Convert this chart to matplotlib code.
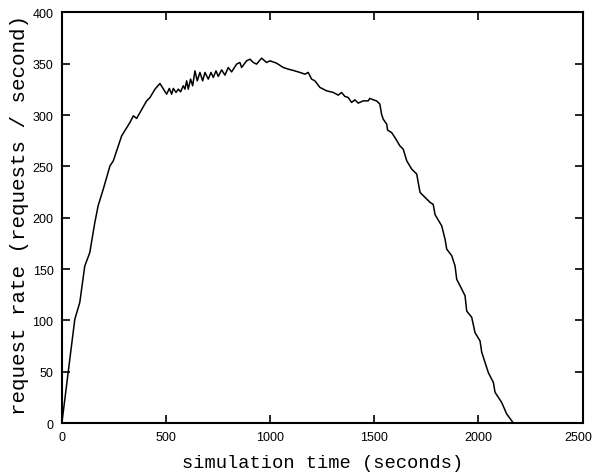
import matplotlib
matplotlib.use("Agg")
import matplotlib.pyplot as plt
import matplotlib.transforms as mtransforms

# simulation time (seconds) and request rate (requests / second)
time_s = [0, 30, 62, 86, 110, 134, 158, 174, 199, 231, 247, 287, 327, 343, 359,
          407, 423, 447, 471, 503, 516, 527, 535, 548, 559, 570, 583, 591, 599,
          607, 618, 628, 639, 650, 663, 676, 687, 703, 716, 727, 740, 751, 767,
          783, 799, 815, 839, 855, 863, 887, 903, 919, 935, 959, 983, 999, 1031,
          1063, 1087, 1110, 1143, 1167, 1183, 1199, 1215, 1239, 1271, 1303, 1327,
          1343, 1359, 1375, 1391, 1407, 1423, 1447, 1471, 1479, 1495, 1511, 1527,
          1535, 1543, 1560, 1564, 1583, 1599, 1623, 1639, 1656, 1680, 1704, 1711,
          1720, 1744, 1768, 1783, 1792, 1824, 1840, 1848, 1872, 1888, 1896, 1912,
          1936, 1944, 1968, 1984, 2008, 2016, 2048, 2072, 2080, 2112, 2136, 2168]
rate = [0, 49, 101, 117.5, 153, 166, 195, 211.6, 228, 250.5, 255.4, 279.7, 292.8,
        299.2, 296.7, 313.8, 317, 325.2, 330.7, 320.3, 325.9, 320.3, 325.9, 322,
        325.2, 322.6, 328.5, 325.2, 333.3, 325.2, 335, 328.5, 343, 333.3, 341.5,
        333.3, 341.5, 335, 341.5, 336.6, 343, 337.6, 344, 338.9, 346.3, 342,
        349.6, 351.2, 346.3, 352.8, 354.4, 351.2, 349.6, 355.4, 351.2, 352.8,
        350.5, 346.3, 344.7, 343.5, 341.5, 339.8, 341.5, 335, 333.3, 326.9,
        323.6, 322, 319.4, 322, 318.1, 317.1, 312.3, 314.8, 311.6, 313.8, 313.8,
        316.2, 314.8, 313.8, 310.6, 300.9, 296, 291, 285.3, 283, 278.2, 270,
        266.8, 255.4, 247.3, 242.5, 234.4, 224.6, 219.8, 214.9, 213, 203, 192,
        179, 169.4, 163, 153, 140, 133.7, 124, 109, 103, 88, 80, 69, 49, 39.6,
        30, 20, 8.8, 0]

x_ticks = [0, 500, 1000, 1500, 2000, 2500]
y_ticks = [0, 50, 100, 150, 200, 250, 300, 350, 400]

fig = plt.figure(figsize=(5.95, 4.77), dpi=100)
ax = fig.add_axes([0.104, 0.111, 0.875, 0.861])

ax.plot(time_s, rate, color='black', linewidth=1.1)

ax.set_xlim(0, 2500)
ax.set_ylim(0, 400)
ax.set_xticks(x_ticks)
ax.set_yticks(y_ticks)
ax.tick_params(direction='in', length=6, width=1.2, top=True, right=True,
               labelsize=9, pad=6)
for lab in ax.get_xticklabels() + ax.get_yticklabels():
    lab.set_family('Liberation Sans')

# last x label sits right at the figure edge, nudge it left a bit
last = ax.get_xticklabels()[-1]
last.set_transform(last.get_transform() +
                   mtransforms.ScaledTranslation(-0.04, 0, fig.dpi_scale_trans))

for sp in ax.spines.values():
    sp.set_linewidth(1.5)

ax.set_xlabel('simulation time (seconds)', family='Liberation Mono',
              fontsize=13.5, labelpad=8)
ax.set_ylabel('request rate (requests / second)', family='Liberation Mono',
              fontsize=15)
ax.yaxis.set_label_coords(-0.064, 0.51)

fig.savefig('out.png', dpi=100)
